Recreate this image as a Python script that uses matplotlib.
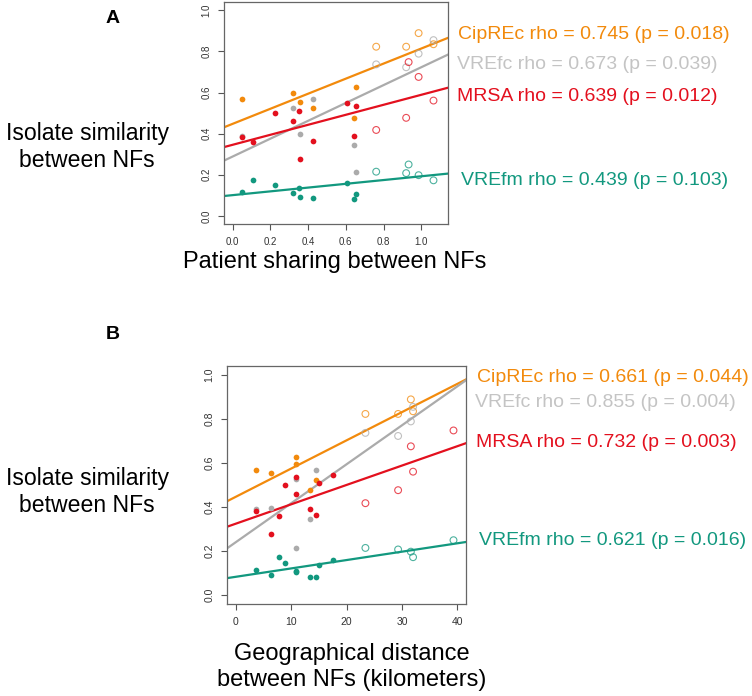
import matplotlib
matplotlib.use('Agg')
import matplotlib.pyplot as plt
import numpy as np

plt.rcParams['font.family'] = ['Liberation Sans', 'DejaVu Sans']

# 15 pairs of NFs: patient sharing (panel A) and distance in km (panel B)
sharing = [0.048, 0.110, 0.225, 0.319, 0.349, 0.356, 0.427, 0.605, 0.641, 0.655,
           0.761, 0.920, 0.933, 0.986, 1.065]
distance = [3.67, 7.83, 8.86, 10.9, 15.0, 6.33, 14.5, 17.5, 13.4, 10.9,
            23.4, 29.3, 39.3, 31.6, 32.0]
# first 10 pairs filled, last 5 open
is_open = [False] * 10 + [True] * 5

nan = np.nan
cipre = [0.568, nan, nan, 0.598, nan, 0.556, 0.523, nan, 0.476, 0.627,
         0.823, 0.823, nan, 0.889, 0.835]
vrefc = [0.390, nan, nan, 0.527, nan, 0.397, 0.568, nan, 0.347, 0.215,
         0.737, 0.723, nan, 0.789, 0.855]
mrsa = [0.382, 0.358, 0.500, 0.460, 0.508, 0.277, 0.366, 0.548, 0.390, 0.535,
        0.418, 0.477, 0.748, 0.676, 0.561]
vrefm = [0.116, 0.176, 0.148, 0.110, 0.137, 0.092, 0.085, 0.161, 0.081, 0.108,
         0.215, 0.208, 0.250, 0.198, 0.173]

species = ['CipREc', 'VREfc', 'MRSA', 'VREfm']
series = [cipre, vrefc, mrsa, vrefm]
colors = ['#F28A0C', '#ABABAB', '#E3101E', '#12987F']
text_colors = ['#F28A0C', '#C4C4C4', '#E3101E', '#12987F']

# fitted lines (intercept, slope)
fit_a = [(0.448, 0.366), (0.289, 0.434), (0.346, 0.243), (0.101, 0.0917)]
fit_b = [(0.447, 0.01281), (0.241, 0.01768), (0.325, 0.00879), (0.084, 0.0038)]

rho_a = ['0.745', '0.673', '0.639', '0.439']
p_a = ['0.018', '0.039', '0.012', '0.103']
rho_b = ['0.661', '0.855', '0.732', '0.621']
p_b = ['0.044', '0.004', '0.003', '0.016']

fig = plt.figure(figsize=(7.52, 6.96), dpi=100)


def panel(rect, xs, fits, xlim, xticks, xticklabels, tick_fs):
    ax = fig.add_axes(rect)
    xs = np.array(xs)
    op = np.array(is_open)
    for ys, c, (b0, b1) in zip(series, colors, fits):
        ys = np.array(ys)
        ax.scatter(xs[~op], ys[~op], s=17, color=c, linewidths=0, zorder=3)
        ax.scatter(xs[op], ys[op], s=24, facecolors='none', edgecolors=c,
                   linewidths=0.8, alpha=0.75, zorder=3)
        ax.axline((0, b0), slope=b1, color=c, lw=1.6, zorder=2)
    ax.set_xlim(xlim)
    ax.set_ylim(-0.04, 1.04)
    ax.set_yticks([0.0, 0.2, 0.4, 0.6, 0.8, 1.0])
    ax.set_yticklabels(['0.0', '0.2', '0.4', '0.6', '0.8', '1.0'],
                       rotation=90, va='center')
    ax.set_xticks(xticks)
    ax.set_xticklabels(xticklabels)
    ax.tick_params(direction='out', length=4, width=0.8, color='#555555',
                   labelsize=tick_fs, labelcolor='#333333', pad=5)
    for sp in ax.spines.values():
        sp.set_color('#666666')
        sp.set_linewidth(0.9)
    return ax


panel([0.298, 0.678, 0.298, 0.319], sharing, fit_a, (-0.046, 1.143),
      [0, 0.2, 0.4, 0.6, 0.8, 1.0], ['0.0', '0.2', '0.4', '0.6', '0.8', '1.0'], 7)
panel([0.302, 0.132, 0.318, 0.342], distance, fit_b, (-1.57, 41.6),
      [0, 10, 20, 30, 40], ['0', '10', '20', '30', '40'], 7.5)

# panel letters and axis titles
fig.text(0.150, 0.974, 'A', fontsize=14, fontweight='bold', ha='center', va='center')
fig.text(0.150, 0.520, 'B', fontsize=14, fontweight='bold', ha='center', va='center')
fig.text(0.116, 0.789, 'Isolate similarity\nbetween NFs', fontsize=16.6,
         ha='center', va='center', linespacing=1.2)
fig.text(0.116, 0.293, 'Isolate similarity\nbetween NFs', fontsize=16.6,
         ha='center', va='center', linespacing=1.2)
fig.text(0.445, 0.624, 'Patient sharing between NFs', fontsize=17,
         ha='center', va='center')
fig.text(0.468, 0.042, 'Geographical distance\nbetween NFs (kilometers)', fontsize=17,
         ha='center', va='center', linespacing=1.25)

# correlation labels
pos_a = [(0.609, 0.951), (0.608, 0.907), (0.608, 0.861), (0.613, 0.741)]
pos_b = [(0.634, 0.457), (0.632, 0.421), (0.633, 0.364), (0.637, 0.223)]
for name, c, r, p, (x, y) in zip(species, text_colors, rho_a, p_a, pos_a):
    fig.text(x, y, f'{name} rho = {r} (p = {p})', color=c, fontsize=14,
             ha='left', va='center')
for name, c, r, p, (x, y) in zip(species, text_colors, rho_b, p_b, pos_b):
    fig.text(x, y, f'{name} rho = {r} (p = {p})', color=c, fontsize=14,
             ha='left', va='center')

fig.savefig('out.png', dpi=100)
